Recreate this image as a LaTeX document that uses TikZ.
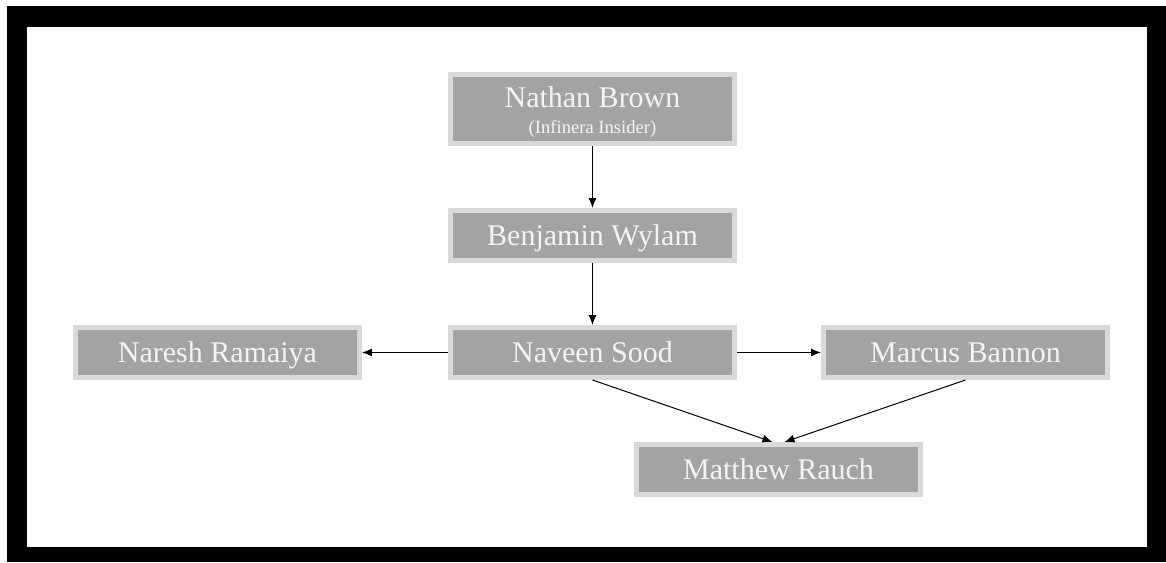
\documentclass[tikz,border=0pt]{standalone}
\usepackage{fontspec}
\setmainfont{Liberation Serif}
\usepackage{xcolor}
\definecolor{colorBox}{HTML}{A3A3A3}
\definecolor{colorRim}{HTML}{D9D9D9}
\definecolor{colorName}{HTML}{F4F4F4}
\usepackage{tikz}
\usetikzlibrary{arrows, arrows.meta, positioning}
\tikzset{person/.style={rectangle, fill=colorBox, draw=colorRim, line width=2.5pt, minimum width=142pt, minimum height=25pt, inner sep=0pt, text height=13pt, text depth=3pt, text=colorName, font=\fontsize{15}{18}\selectfont}}

\begin{document}
\begin{tikzpicture}[>={Latex[length=5pt,width=4pt]}, node distance=31pt and 42pt]
\useasboundingbox (-296.25pt,54.5pt) rectangle (286.75pt,-226.5pt);
\fill[black] (-292.75pt,51.5pt) rectangle (286.75pt,-226.5pt);
\fill[white] (-282.75pt,41pt) rectangle (277.25pt,-219pt);
\node[person, minimum height=34.5pt, align=center, text height=28pt, text depth=3pt] (nathan) {Nathan Brown\\[-5pt]{\fontsize{9.3}{11}\selectfont (Infinera Insider)}};
\node[person, below=of nathan] (benjamin) {Benjamin Wylam};
\node[person, below=of benjamin] (naveen) {Naveen Sood};
\node[person, left=of naveen, xshift=-1pt] (naresh) {Naresh Ramaiya};
\node[person, right=of naveen] (marcus) {Marcus Bannon};
\node[person, below=of naveen, xshift=93pt] (matthew) {Matthew Rauch};
\draw [->, line width=0.5pt] (nathan) -- (benjamin);
\draw [->, line width=0.5pt] (benjamin) -- (naveen);
\draw [->, line width=0.5pt] (naveen) -- (naresh);
\draw [->, line width=0.5pt] (naveen) -- (marcus);
\draw [->, line width=0.5pt] (naveen.south) -- ([xshift=-3pt]matthew.north);
\draw [->, line width=0.5pt] (marcus.south) -- ([xshift=3pt]matthew.north);
\end{tikzpicture}
\end{document}
